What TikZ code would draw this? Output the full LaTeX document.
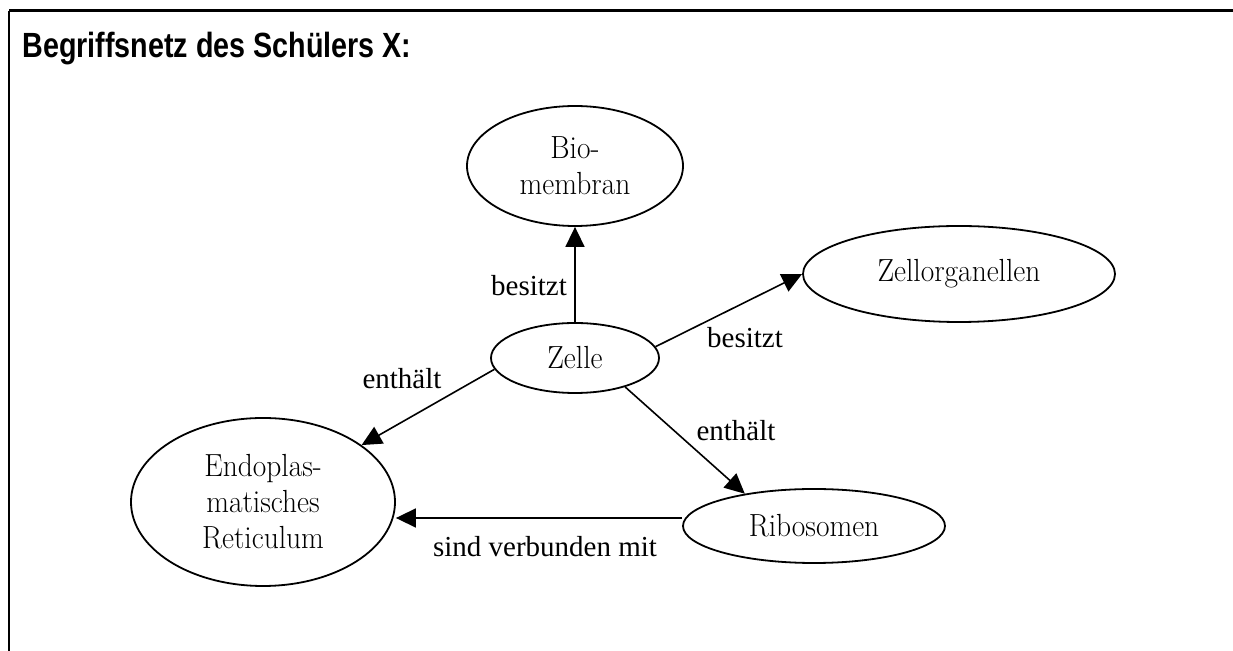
\documentclass[tikz,border=0pt]{standalone}
\usepackage{fontspec}
\usepackage{tikz}
\usetikzlibrary{arrows.meta,shapes.geometric,positioning,calc}
\newfontfamily\titelfont{Liberation Sans}[FakeStretch=0.82]
\newfontfamily\kantenfont{Liberation Serif}
\newfontfamily\knotenfont{Latin Modern Roman}[FakeStretch=0.92]

\begin{document}
\begin{tikzpicture}[x=0.5pt,y=-0.5pt,
  begriff/.style={ellipse,draw,line width=0.9pt,inner sep=0pt,align=center,font=\knotenfont\fontsize{16}{18}\selectfont},
  kante/.style={anchor=base,inner sep=0pt,font=\kantenfont\fontsize{14.5}{17}\selectfont},
  pfeil/.style={-{Triangle[length=10pt,width=9.5pt]},line width=0.8pt}]
\useasboundingbox (0,0) rectangle (1233,651);
\draw [line width=1.5pt] (9,11) -- (1233,11);
\draw [line width=1pt] (9,11) -- (9,651);
\node [anchor=base west,inner sep=0pt,font=\titelfont\bfseries\fontsize{17.5}{21}\selectfont] (titel) at (22,58) {Begriffsnetz des Schülers X:};

\node [begriff,minimum width=108pt,minimum height=60pt] (bio) at (575,166) {Bio-\\membran};
\node [begriff,minimum width=84pt,minimum height=35pt] (zelle) at (575,358) {Zelle};
\node [begriff,minimum width=156pt,minimum height=48pt] (zorg) at (959,274) {Zellorganellen};
\node [begriff,minimum width=132pt,minimum height=84pt] (er) at (263,502) {Endoplas-\\matisches\\Reticulum};
\node [begriff,minimum width=131pt,minimum height=37pt] (ribo) at (814,526) {Ribosomen};

\node [kante] (l1) at (529,296) {besitzt};
\node [kante] (l2) at (745,348) {besitzt};
\node [kante] (l3) at (402,389) {enthält};
\node [kante] (l4) at (736,441) {enthält};
\node [kante] (l5) at (545,557) {sind verbunden mit};

\draw [pfeil] (zelle) -- (bio);
\draw [pfeil] (zelle.8) -- (zorg.west);
\draw [pfeil] (zelle.188) -- (er.30);
\draw [pfeil] (zelle.-30) -- (ribo.155);
\coordinate (rv) at ([yshift=4pt]ribo.west);
\draw [pfeil] (rv) -- (rv -| er.east);
\end{tikzpicture}
\end{document}
